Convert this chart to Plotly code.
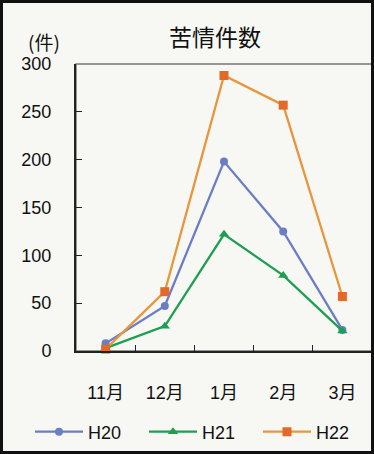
import plotly.graph_objects as go

# 苦情件数 by month
months = ["11月", "12月", "1月", "2月", "3月"]
h20 = [8, 47, 198, 125, 22]
h21 = [3, 26, 122, 79, 21]
h22 = [2, 62, 288, 257, 57]

W, H = 374, 454
L, R, T, B = 76, 2, 64, 103
pw, ph = W - L - R, H - T - B

def px(x):
    return (x - L) / pw

def py(y):
    return (H - B - y) / ph

font = "Liberation Sans, Arial, Noto Sans CJK JP"

fig = go.Figure()
series = [
    ("H20", h20, "#6b7ec4", "#6b7ec4", "circle", 8),
    ("H21", h21, "#1e9e52", "#1e9e52", "triangle-up", 9),
    ("H22", h22, "#e8963c", "#e2692a", "square", 9),
]
for name, vals, lc, mc, sym, sz in series:
    fig.add_trace(go.Scatter(
        x=months, y=vals, name=name, mode="lines+markers",
        line=dict(color=lc, width=2.3),
        marker=dict(color=mc, symbol=sym, size=sz),
        cliponaxis=False,
    ))

fig.update_layout(
    width=W, height=H,
    margin=dict(l=L, r=R, t=T, b=B, autoexpand=False),
    paper_bgcolor="#f7f7f3", plot_bgcolor="#f7f7f3",
    font=dict(family=font, size=18, color="#111"),
    title=dict(text="苦情件数", x=215 / W, xanchor="center",
               y=1 - 38 / H, yanchor="middle",
               font=dict(size=23, family="Noto Sans CJK JP")),
    showlegend=True,
    legend=dict(orientation="h", x=px(30), xanchor="left", y=py(432), yanchor="middle",
                font=dict(size=18), bgcolor="rgba(0,0,0,0)", itemwidth=48,
                entrywidth=51, entrywidthmode="pixels", tracegroupgap=0),
    xaxis=dict(type="category", showgrid=False, showline=True, linecolor="#222",
               linewidth=2, ticks="inside", tickson="boundaries", ticklen=6,
               tickcolor="#222", ticklabelstandoff=24, tickfont=dict(size=18),
               range=[-0.5, 4.5], zeroline=False, fixedrange=True, automargin=False),
    yaxis=dict(range=[0, 300], dtick=50, showgrid=False, showline=True,
               linecolor="#222", linewidth=2, ticks="inside", ticklen=6,
               tickcolor="#222", ticklabelstandoff=19, tickfont=dict(size=18),
               zeroline=False, fixedrange=True, automargin=False),
    annotations=[dict(text="(件)", x=px(44), y=py(42), xref="paper", yref="paper",
                      xanchor="center", yanchor="middle", showarrow=False,
                      font=dict(size=19, family="Noto Sans CJK JP"))],
    shapes=[
        dict(type="rect", xref="paper", yref="paper", x0=0, y0=0, x1=1, y1=1,
             line=dict(color="#777", width=1.5), layer="below"),
        dict(type="rect", xref="paper", yref="paper", x0=px(1.5), y0=py(H - 1.5),
             x1=px(W - 1.5), y1=py(1.5), line=dict(color="#111", width=3)),
    ],
)

fig.write_html("out.html", config={"displayModeBar": False},
               post_script="document.body.style.margin='0';")
